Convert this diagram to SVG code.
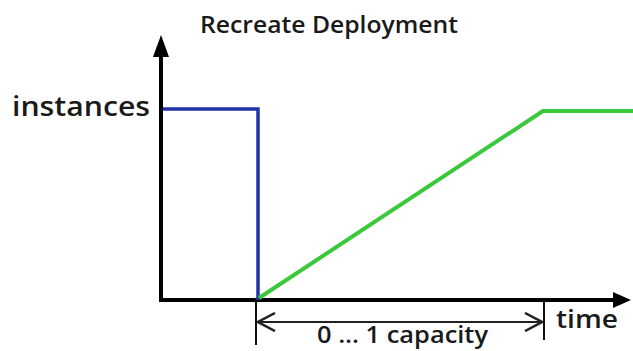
<svg xmlns="http://www.w3.org/2000/svg" width="633" height="351" viewBox="0 0 633 351">
  <style>
    text { font-family: "Open Sans", "Liberation Sans", sans-serif; font-weight: 600; fill: #1a1a1a; }
    .axis { stroke: #000; stroke-width: 4; fill: none; }
    .tick { stroke: #111; stroke-width: 2; fill: none; }
    .dim { stroke: #222; stroke-width: 2; fill: none; }
    .old { stroke: #2233a8; stroke-width: 3.5; fill: none; }
    .new { stroke: #3cc83c; stroke-width: 4; fill: none; stroke-linejoin: round; }
  </style>
  <defs>
    <marker id="open-arrow" viewBox="0 0 20 20" refX="19" refY="10" markerWidth="20" markerHeight="20" markerUnits="userSpaceOnUse" orient="auto-start-reverse">
      <path d="M2 1 L19 10 L2 19" fill="none" stroke="#222" stroke-width="2.5"/>
    </marker>
  </defs>
  <rect width="633" height="351" fill="#fff"/>

  <text id="title" x="200" y="33" font-size="24" textLength="258" lengthAdjust="spacingAndGlyphs">Recreate Deployment</text>

  <g id="axes">
    <path class="axis" d="M161 300 V55"/>
    <polygon points="161,35 153,57 169,57" fill="#000"/>
    <path class="axis" d="M159 300 H614"/>
    <polygon points="631,300 613,292 613,308" fill="#000"/>
    <text id="y-label" x="12" y="116" font-size="27" textLength="138" lengthAdjust="spacingAndGlyphs">instances</text>
    <text id="x-label" x="556" y="328" font-size="26" textLength="62" lengthAdjust="spacingAndGlyphs">time</text>
  </g>

  <g id="old-version">
    <path class="old" d="M163 109 H258 V300"/>
  </g>

  <g id="new-version">
    <path class="new" d="M259 298 L543 111 H633"/>
  </g>

  <g id="connectors">
    <path class="tick" d="M256 301 V345"/>
    <path class="tick" d="M544 301 V340"/>
    <path class="dim" d="M258 322 H542" marker-start="url(#open-arrow)" marker-end="url(#open-arrow)"/>
  </g>

  <text id="dim-label" x="317" y="343" font-size="24" textLength="171" lengthAdjust="spacingAndGlyphs">0 ... 1 capacity</text>
</svg>
